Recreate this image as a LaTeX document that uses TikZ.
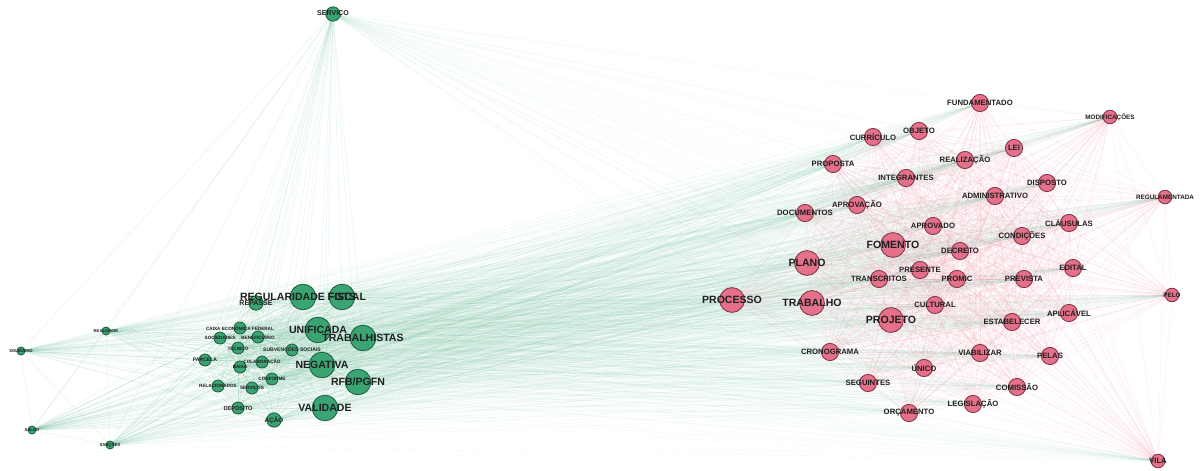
\documentclass[tikz,border=0pt]{standalone}
\usepackage{fontspec}
\setmainfont{Liberation Sans}
\usepackage{tikz}
\usetikzlibrary{backgrounds}
\usepackage{xcolor}

\definecolor{gfill}{RGB}{58,165,115}
\definecolor{gline}{RGB}{28,95,65}
\definecolor{pfill}{RGB}{228,112,137}
\definecolor{pline}{RGB}{130,50,70}
\definecolor{gedge}{RGB}{80,175,135}
\definecolor{pedge}{RGB}{232,115,140}

% name/x/y/circle style/text style/label
\def\greennet{serv/333/14/gmid/t5/SERVIÇO,
  regfis/303/297/gbig/t75/REGULARIDADE FISCAL,
  fgts/342/297/gbig/t75/FGTS,
  unif/318/330/gbig/t75/UNIFICADA,
  trab/363/338/gbig/t75/TRABALHISTAS,
  neg/322/365/gbig/t75/NEGATIVA,
  rfb/358/382/gbig/t75/{RFB/PGFN},
  valid/325/408/gbig/t75/VALIDADE,
  acao/274/420/gmid/t45/AÇÃO,
  repas/256/303/gmid/t5/REPASSE,
  depos/238/408/gsml/t4/DEPÓSITO,
  caixa/240/328/gsml/t33/CAIXA ECONÔMICA FEDERAL,
  socied/220/338/gsml/t33/SOCIEDADES,
  benef/258/337/gsml/t33/BENEFICIÁRIO,
  tecn/238/348/gsml/t33/TÉCNICO,
  subv/292/350/gsml/t35/SUBVENÇÕES SOCIAIS,
  parc/205/360/gsml/t35/PARCELA,
  colab/262/362/gsml/t33/COLABORAÇÃO,
  baixa/240/367/gsml/t33/BAIXA,
  confor/272/379/gsml/t33/CONFORME,
  relac/218/386/gsml/t33/RELACIONADOS,
  servs/252/388/gsml/t33/SERVIÇOS,
  realid/106/331/gtiny/t3/REALIDADE,
  solid/21/351/gtiny/t3/SOLIDÁRIO,
  saldo/32/430/gtiny/t3/SALDO,
  sancoes/110/445/gtiny/t3/SANÇÕES}

\def\pinknet{proc/732/300/pbig/t75/PROCESSO,
  trabo/812/303/pbig/t75/TRABALHO,
  plano/807/263/pbig/t75/PLANO,
  foment/893/245/pbig/t75/FOMENTO,
  projeto/891/320/pbig/t75/PROJETO,
  curr/873/137/pmid/t55/CURRÍCULO,
  objeto/919/131/pmid/t55/OBJETO,
  propos/833/164/pmid/t55/PROPOSTA,
  integ/906/178/pmid/t55/INTEGRANTES,
  aprovc/857/205/pmid/t55/APROVAÇÃO,
  docs/805/213/pmid/t55/DOCUMENTOS,
  fund/980/103/pmid/t55/FUNDAMENTADO,
  modif/1110/117/psml/t45/MODIFICAÇÕES,
  lei/1014/148/pmid/t55/LEI,
  realiz/965/160/pmid/t55/REALIZAÇÃO,
  dispos/1047/183/pmid/t55/DISPOSTO,
  admin/995/196/pmid/t55/ADMINISTRATIVO,
  regul/1165/197/psml/t45/REGULAMENTADA,
  aprovd/933/226/pmid/t55/APROVADO,
  claus/1069/223/pmid/t55/CLÁUSULAS,
  condic/1022/236/pmid/t55/CONDIÇÕES,
  decreto/960/251/pmid/t55/DECRETO,
  edital/1073/268/pmid/t55/EDITAL,
  presen/920/270/pmid/t55/PRESENTE,
  transc/879/279/pmid/t55/TRANSCRITOS,
  promic/957/279/pmid/t55/PROMIC,
  prev/1024/279/pmid/t55/PREVISTA,
  pelo/1172/295/psml/t45/PELO,
  cult/935/305/pmid/t55/CULTURAL,
  aplic/1069/313/pmid/t55/APLICÁVEL,
  estab/1012/322/pmid/t55/ESTABELECER,
  crono/830/352/pmid/t55/CRONOGRAMA,
  viab/980/353/pmid/t55/VIABILIZAR,
  pelas/1050/356/pmid/t55/PELAS,
  unico/924/368/pmid/t55/ÚNICO,
  seguin/868/383/pmid/t55/SEGUINTES,
  comis/1017/387/pmid/t55/COMISSÃO,
  legis/973/404/pmid/t55/LEGISLAÇÃO,
  orcam/909/413/pmid/t55/ORÇAMENTO,
  vila/1158/461/psml/t55/VILA}

\begin{document}
\begin{tikzpicture}[
      x=0.025cm, y=-0.025cm,
      gnode/.style={circle, draw=gline, fill=gfill, line width=0.6pt, inner sep=0pt},
      pnode/.style={circle, draw=pline, fill=pfill, line width=0.6pt, inner sep=0pt},
      gbig/.style={gnode, minimum size=0.64cm},
      gmid/.style={gnode, minimum size=0.36cm},
      gsml/.style={gnode, minimum size=0.3cm},
      gtiny/.style={gnode, minimum size=0.2cm},
      pbig/.style={pnode, minimum size=0.62cm},
      pmid/.style={pnode, minimum size=0.43cm},
      psml/.style={pnode, minimum size=0.34cm},
      txt/.style={inner sep=0pt, text=black!88, font=\bfseries},
      t75/.style={txt, font=\fontsize{7.5}{8}\selectfont\bfseries},
      t55/.style={txt, font=\fontsize{5.5}{6}\selectfont\bfseries},
      t5/.style={txt, font=\fontsize{5}{6}\selectfont\bfseries},
      t45/.style={txt, font=\fontsize{4.5}{5}\selectfont\bfseries},
      t4/.style={txt, font=\fontsize{4}{5}\selectfont\bfseries},
      t35/.style={txt, font=\fontsize{3.6}{4}\selectfont\bfseries},
      t33/.style={txt, font=\fontsize{3.3}{4}\selectfont\bfseries},
      t3/.style={txt, font=\fontsize{3}{4}\selectfont\bfseries},
      crossedge/.style={gedge, line width=0.25pt, opacity=0.08},
      greenedge/.style={gedge, line width=0.25pt, opacity=0.18},
      pinkedge/.style={pedge, line width=0.25pt, opacity=0.15}
    ]
    \useasboundingbox (0,0) rectangle (1200,470);
    % vertices
    \foreach \n/\x/\y/\s/\f/\lbl in \greennet
      \node[\s] (\n) at (\x,\y) {};
    \foreach \n/\x/\y/\s/\f/\lbl in \pinknet
      \node[\s] (\n) at (\x,\y) {};
    % labels on top of every vertex
    \foreach \n/\x/\y/\s/\f/\lbl in \greennet
      \node[\f] (\n-t) at (\n) {\lbl};
    \foreach \n/\x/\y/\s/\f/\lbl in \pinknet
      \node[\f] (\n-t) at (\n) {\lbl};
    \begin{pgfonlayer}{background}
      % green community to pink community
      \foreach \a/\ax/\ay/\as/\af/\al in \greennet
        \foreach \b/\bx/\by/\bs/\bf/\bl in \pinknet
          \draw[crossedge] (\a) -- (\b);
      % inside the green community
      \foreach \a/\ax/\ay/\as/\af/\al [count=\i] in \greennet
        \foreach \b/\bx/\by/\bs/\bf/\bl [count=\j] in \greennet
          {\ifnum\j>\i \draw[greenedge] (\a) -- (\b);\fi}
      % inside the pink community
      \foreach \a/\ax/\ay/\as/\af/\al [count=\i] in \pinknet
        \foreach \b/\bx/\by/\bs/\bf/\bl [count=\j] in \pinknet
          {\ifnum\j>\i \draw[pinkedge] (\a) -- (\b);\fi}
    \end{pgfonlayer}
  \end{tikzpicture}
\end{document}
